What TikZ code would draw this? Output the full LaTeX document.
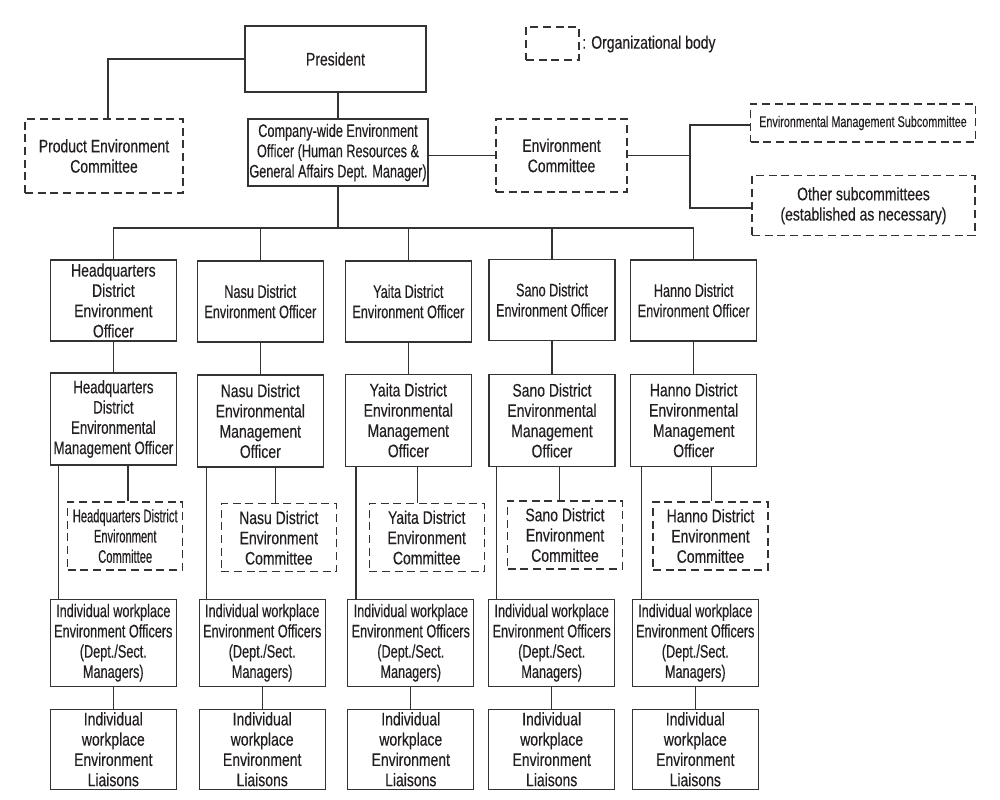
\documentclass[tikz,border=0pt]{standalone}
\usepackage{fontspec}
\setmainfont{Liberation Sans}[FakeStretch=0.77,FakeBold=0.35]
\newfontfamily\squeezefont{Liberation Sans}[FakeStretch=0.70,FakeBold=0.35]
\newfontfamily\midfont{Liberation Sans}[FakeStretch=0.73,FakeBold=0.35]
\newfontfamily\narrowfont{Liberation Sans}[FakeStretch=0.615,FakeBold=0.35]
\usetikzlibrary{calc}
\definecolor{linecol}{HTML}{333333}
\definecolor{textcol}{HTML}{231F20}
\begin{document}
\begin{tikzpicture}[x=0.75pt,y=-0.75pt,
  box/.style={draw=linecol, line width=0.85pt, inner sep=0pt, align=center,
    font=\fontsize{13.6}{15.2}\selectfont, text=textcol},
  sq/.style={font=\squeezefont\fontsize{13.6}{15.2}\selectfont},
  dbox/.style={box, dash pattern=on 6pt off 3.5pt},
  rowA/.style={box, minimum width=94.5pt, minimum height=60.75pt},
  rowB/.style={box, minimum width=94.5pt, minimum height=69pt},
  rowC/.style={dbox, minimum width=86.25pt, minimum height=51pt},
  rowD/.style={box, sq, minimum width=94.5pt, minimum height=65.25pt},
  rowE/.style={box, minimum width=94.5pt, minimum height=60pt},
  conn/.style={draw=linecol, line width=0.85pt}]
\useasboundingbox (0,0) rectangle (1000,800);

% top level
\node[box, minimum width=135.75pt, minimum height=49.5pt] (pres) at (335.5,59) {President};
\node[dbox, minimum width=118.5pt, minimum height=55.5pt] (prod) at (104,156) {Product Environment\\Committee};
\node[box, sq, minimum width=135pt, minimum height=50.25pt] (cw) at (338,152.5) {Company-wide Environment\\Officer (Human Resources \&\\General Affairs Dept. Manager)};
\node[dbox, minimum width=98.25pt, minimum height=54.75pt] (envcom) at (561.5,155.5) {Environment\\Committee};
\node[dbox, minimum width=168.75pt, minimum height=28.5pt, font=\squeezefont\fontsize{11.6}{13}\selectfont] (ems) at (863,123) {Environmental Management Subcommittee};
\node[dbox, minimum width=167.25pt, minimum height=45pt] (other) at (863.5,205.7) {Other subcommittees\\(established as necessary)};

% legend
\node[dbox, minimum width=39.75pt, minimum height=24.75pt] (legend) at (552.5,43.5) {};
\node[anchor=west, inner sep=0pt, font=\fontsize{13.6}{15}\selectfont, text=textcol] (legendtext) at (582,44) {: Organizational body};

% row 1 district officers
\node[rowA] (o1) at (113.4,300.5) {Headquarters\\District\\Environment\\Officer};
\node[rowA, sq] (o2) at (260.3,301.5) {Nasu District\\Environment Officer};
\node[rowA, sq] (o3) at (408.3,301.5) {Yaita District\\Environment Officer};
\node[rowA, sq] (o4) at (552,300) {Sano District\\Environment Officer};
\node[rowA, sq] (o5) at (693.7,300.5) {Hanno District\\Environment Officer};

% row 2 managers
\node[rowB, font=\midfont\fontsize{13.6}{15.2}\selectfont] (m1) at (113.4,419) {Headquarters\\District\\Environmental\\Management Officer};
\node[rowB] (m2) at (260.3,421) {Nasu District\\Environmental\\Management\\Officer};
\node[rowB] (m3) at (408.3,420.3) {Yaita District\\Environmental\\Management\\Officer};
\node[rowB] (m4) at (552,420.5) {Sano District\\Environmental\\Management\\Officer};
\node[rowB] (m5) at (693.7,420.2) {Hanno District\\Environmental\\Management\\Officer};

% row 3 committees
\node[rowC, font=\narrowfont\fontsize{13.6}{15.2}\selectfont] (k1) at (125.2,536) {Headquarters District\\Environment\\Committee};
\node[rowC] (k2) at (278.8,537.8) {Nasu District\\Environment\\Committee};
\node[rowC] (k3) at (426.7,537.6) {Yaita District\\Environment\\Committee};
\node[rowC] (k4) at (565,535) {Sano District\\Environment\\Committee};
\node[rowC] (k5) at (710.5,536) {Hanno District\\Environment\\Committee};

% row 4 and 5
\foreach \i/\x in {1/113.3,2/262.2,3/410.8,4/551.7,5/695.3}{
  \node[rowD] (w\i) at (\x,642.8) {Individual workplace\\Environment Officers\\(Dept./Sect.\\Managers)};
  \node[rowE] (l\i) at (\x,749.3) {Individual\\workplace\\Environment\\Liaisons};
  \draw[conn] (w\i.south) -- (l\i.north);
  \draw[conn] (o\i.south) -- (o\i.south |- m\i.north);
}

% top connectors
\draw[conn] (pres.west) -| ($(prod.north)+(4,0)$);
\draw[conn] (cw.north) -- (cw.north |- pres.south);
\coordinate (busy) at (0,228);
\draw[conn] (cw.south) -- (cw.south |- busy);
\draw[conn] (o1.north) -- (o1.north |- busy) -- (o5.north |- busy) -- (o5.north);
\foreach \i in {2,3,4}{\draw[conn] (o\i.north) -- (o\i.north |- busy);}
\draw[conn] (envcom.west) -- (envcom.west -| cw.east);
\coordinate (split) at (690,157);
\draw[conn] (envcom.east) -- (envcom.east -| split);
\draw[conn] ($(ems.west)+(0,2)$) -- ($(ems.west -| split)+(0,2)$) -- ($(other.west -| split)+(0,2.3)$) -- ($(other.west)+(0,2.3)$);

% manager -> committee, manager -> workplace
\foreach \i/\dk/\dw in {1/14.6/-55,2/15/-53.6,3/9.4/-52.3,4/7.3/-55.7,5/17.6/-52.4}{
  \draw[conn] ($(m\i.south)+(\dk,0)$) -- ($(m\i.south |- k\i.north)+(\dk,0)$);
  \draw[conn] ($(m\i.south)+(\dw,0)$) -- ($(m\i.south |- w\i.north)+(\dw,0)$);
}
\end{tikzpicture}
\end{document}
